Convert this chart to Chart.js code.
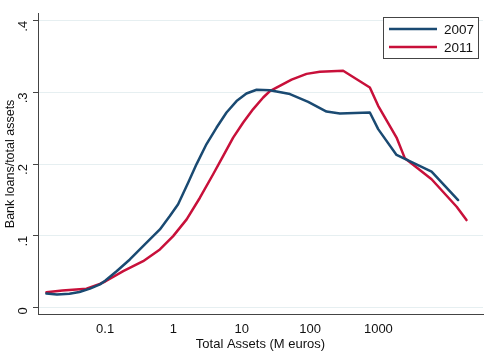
<!DOCTYPE html>
<html>
<head>
<meta charset="utf-8">
<script src="https://cdn.jsdelivr.net/npm/chart.js@4/dist/chart.umd.min.js"></script>
<style>
  html, body { margin: 0; padding: 0; background: #fff; }
  #wrap { width: 500px; height: 364px; }
</style>
</head>
<body>
<div id="wrap"><canvas id="grafico" width="500" height="364"></canvas></div>
<script>
// datos (activos totales en M euros, ratio prestamos/activos)
const activos2007 = [0.0138, 0.0197, 0.03, 0.042, 0.06, 0.084, 0.1, 0.147, 0.23, 0.381, 0.633, 0.885, 1.17, 1.64, 2.18, 3.05, 4.28, 5.98, 8.39, 11.7, 16.5, 25.8, 50.7, 93.8, 174, 273, 750, 993, 1845, 6010, 14700];
const ratio2007   = [0.0192, 0.0178, 0.019, 0.0214, 0.026, 0.032, 0.037, 0.0504, 0.0668, 0.0878, 0.1088, 0.1274, 0.1438, 0.174, 0.2, 0.228, 0.251, 0.272, 0.288, 0.2986, 0.3038, 0.303, 0.2978, 0.287, 0.2734, 0.2706, 0.272, 0.2488, 0.2128, 0.1894, 0.1498];

const activos2011 = [0.0138, 0.0237, 0.0533, 0.0837, 0.1, 0.184, 0.36, 0.633, 0.99, 1.56, 2.44, 3.81, 5.35, 7.48, 10.5, 14.7, 20.6, 25.8, 53.6, 88.9, 139, 305, 750, 993, 1845, 2443, 6010, 14000, 19500];
const ratio2011   = [0.021, 0.0234, 0.026, 0.0326, 0.036, 0.0504, 0.0644, 0.0808, 0.0994, 0.1228, 0.153, 0.1858, 0.2114, 0.237, 0.258, 0.2768, 0.293, 0.302, 0.318, 0.326, 0.329, 0.3304, 0.307, 0.2814, 0.237, 0.208, 0.1788, 0.1404, 0.1218];

const etiquetas = ['2007', '2011'];
const ticksX = [0.1, 1, 10, 100, 1000];
const ticksY = [0, 0.1, 0.2, 0.3, 0.4];

const colores = ['#1a4a72', '#c8103a'];
const fuente = "'Liberation Sans', Arial, sans-serif";

/* leyenda tipo Stata dibujada dentro del area */
const leyendaCaja = {
  id: 'leyendaCaja',
  afterDraw(chart) {
    const c = chart.ctx;
    const x = 383, y = 17, w = 95, h = 41;
    c.save();
    c.fillStyle = '#fff';
    c.fillRect(x, y, w, h);
    c.strokeStyle = '#444';
    c.lineWidth = 1;
    c.strokeRect(x + 0.5, y + 0.5, w, h);
    chart.data.datasets.forEach((ds, i) => {
      const ly = y + 12 + i * 18;
      c.strokeStyle = ds.borderColor;
      c.lineWidth = 2.5;
      c.beginPath();
      c.moveTo(389, ly);
      c.lineTo(437, ly);
      c.stroke();
      c.fillStyle = '#111';
      c.font = '13.5px ' + fuente;
      c.textBaseline = 'middle';
      c.fillText(ds.label, 444, ly + 1);
    });
    c.restore();
  }
};

new Chart(document.querySelector('#grafico'), {
  type: 'line',
  data: {
    datasets: [
      { label: etiquetas[0], data: activos2007.map((a, i) => ({ x: a, y: ratio2007[i] })), borderColor: colores[0] },
      { label: etiquetas[1], data: activos2011.map((a, i) => ({ x: a, y: ratio2011[i] })), borderColor: colores[1] }
    ]
  },
  options: {
    responsive: false,
    animation: false,
    layout: { padding: { top: 13, right: 17, bottom: 12, left: 0 } },
    elements: {
      point: { radius: 0 },
      line: { borderWidth: 2.5, tension: 0, borderJoinStyle: 'round', borderCapStyle: 'round' }
    },
    plugins: {
      legend: { display: false },
      tooltip: { enabled: false }
    },
    scales: {
      x: {
        type: 'logarithmic',
        min: 0.0104,
        max: 34000,
        afterBuildTicks: (eje) => { eje.ticks = ticksX.map(v => ({ value: v })); },
        ticks: {
          color: '#111',
          font: { family: fuente, size: 13 },
          padding: 2,
          maxRotation: 0,
          autoSkip: false,
          callback: (v) => String(v)
        },
        grid: { display: false, drawTicks: true, tickLength: 5, tickColor: '#444' },
        border: { color: '#444', width: 1 },
        title: {
          display: true,
          text: 'Total Assets (M euros)',
          color: '#111',
          font: { family: fuente, size: 13 },
          padding: { top: -3, bottom: 0 }
        }
      },
      y: {
        min: -0.0105,
        max: 0.411,
        afterBuildTicks: (eje) => { eje.ticks = ticksY.map(v => ({ value: v })); },
        afterFit: (eje) => {
          eje.width = 38;
          eje.paddingTop = 0;
          eje.paddingBottom = 0;
        },
        ticks: {
          color: '#111',
          font: { family: fuente, size: 13 },
          minRotation: 90,
          maxRotation: 90,
          padding: 10,
          callback: (v) => v === 0 ? '0' : String(v).replace('0.', '.')
        },
        grid: {
          color: '#e6eff1',
          lineWidth: 1,
          tickLength: 5,
          tickColor: '#444'
        },
        border: { color: '#444', width: 1 },
        title: {
          display: true,
          text: 'Bank loans/total assets',
          color: '#111',
          font: { family: fuente, size: 12.5 },
          padding: { top: 3, bottom: 0 }
        }
      }
    }
  },
  plugins: [leyendaCaja]
});
</script>
</body>
</html>
